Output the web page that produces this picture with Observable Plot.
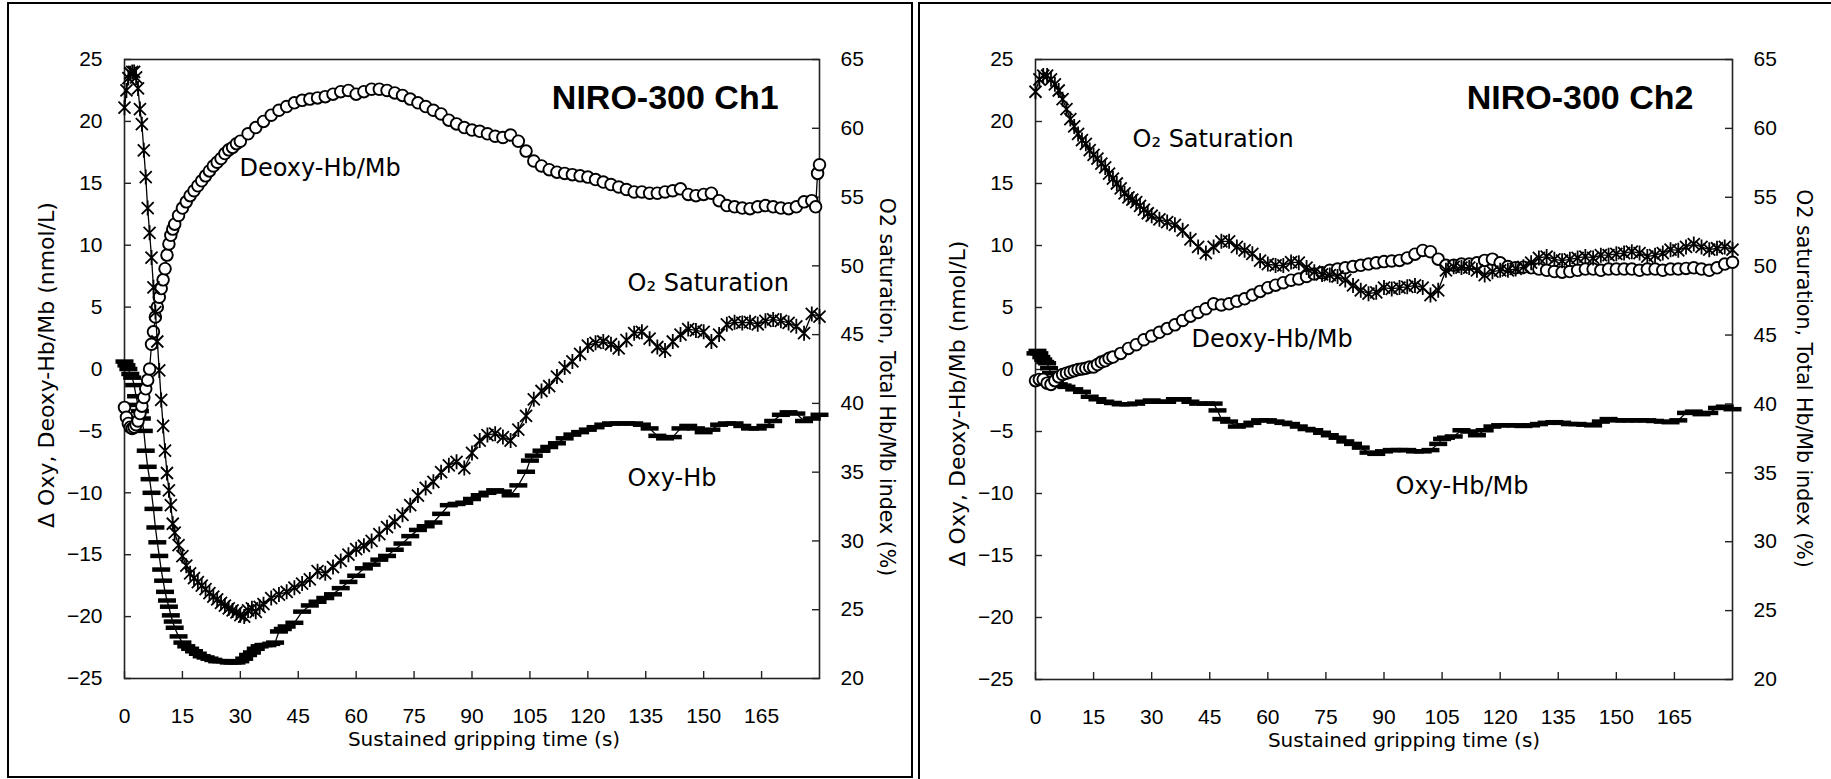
<!DOCTYPE html>
<html><head><meta charset="utf-8">
<script src="https://cdn.jsdelivr.net/npm/d3@7"></script>
<script src="https://cdn.jsdelivr.net/npm/@observablehq/plot@0.6"></script>
<style>
html,body{margin:0;padding:0;background:#fff;}
#wrap{position:relative;width:1831px;height:779px;overflow:hidden;background:#fff;}
.panel{position:absolute;top:0;}
.box{position:absolute;border:2px solid #000;box-sizing:border-box;pointer-events:none;}
</style></head><body>
<div id="wrap">
  <div id="p1" class="panel" style="left:0px"></div>
  <div id="p2" class="panel" style="left:916px"></div>
  <div class="box" style="left:7px;top:2px;width:906px;height:776px"></div>
  <div class="box" style="left:918px;top:2px;width:1000px;height:800px"></div>
</div>
<script>
// ---------- axis ticks / labels ----------
const xTicks = [0,15,30,45,60,75,90,105,120,135,150,165];
const yTicksLeft = [-25,-20,-15,-10,-5,0,5,10,15,20,25];
const yTicksRight = [20,25,30,35,40,45,50,55,60,65];
const xTitle = "Sustained gripping time (s)";
const yTitleLeft = "Δ Oxy, Deoxy-Hb/Mb (nmol/L)";
const yTitleRight = "O2 saturation, Total Hb/Mb index (%)";

// ---------- NIRO-300 Ch1 (time s, value) ----------
// Deoxy-Hb/Mb (nmol/L, left axis)
const ch1Deoxy = [[0,-3.1],[0.5,-3.9],[1,-4.4],[1.5,-4.7],[2,-4.8],[2.5,-4.7],[3,-4.5],[3.5,-4.2],[4,-3.6],[4.5,-3.0],[5,-2.3],[5.5,-1.6],[6,-0.9],[6.5,0.0],[7,2.0],[7.5,3.0],[8,4.2],[8.5,5.0],[9,5.8],[9.5,6.5],[10,7.2],[10.5,8.1],[11,9.2],[11.5,10.1],[12,10.8],[12.5,11.3],[13,11.7],[14,12.4],[15,13.0],[16,13.5],[17,14.0],[18,14.4],[19,14.8],[20,15.2],[21,15.6],[22,16.0],[23,16.4],[24,16.7],[25,17.0],[26,17.4],[27,17.7],[28,17.9],[29,18.2],[30,18.4],[32,19.0],[34,19.5],[36,20.0],[38,20.5],[40,20.9],[42,21.2],[44,21.5],[46,21.7],[48,21.8],[50,21.9],[52,22.0],[54,22.2],[56,22.4],[58,22.5],[60,22.2],[62,22.4],[64,22.6],[66,22.6],[68,22.5],[70,22.3],[72,22.1],[74,21.8],[76,21.5],[78,21.2],[80,20.9],[82,20.6],[84,20.1],[86,19.8],[88,19.5],[90,19.3],[92,19.2],[94,19.0],[96,18.8],[98,18.7],[100,18.9],[102,18.4],[104,17.6],[106,16.8],[108,16.4],[110,16.1],[112,15.9],[114,15.8],[116,15.7],[118,15.6],[120,15.5],[122,15.3],[124,15.1],[126,14.9],[128,14.7],[130,14.5],[132,14.3],[134,14.3],[136,14.2],[138,14.2],[140,14.3],[142,14.4],[144,14.55],[146,14.1],[148,14.0],[150,14.1],[152,14.2],[154,13.6],[156,13.2],[158,13.1],[160,13.0],[162,12.95],[164,13.1],[166,13.2],[168,13.1],[170,13.0],[172,12.95],[174,13.1],[176,13.5],[178,13.6],[179,13.1],[179.5,15.8],[180,16.5]];
// O2 saturation (%, right axis)
const ch1Sat = [[0,61.5],[0.5,62.75],[1,63.65],[1.5,64.0],[2,64.1],[2.5,64.1],[3,63.7],[3.5,62.9],[4,61.4],[4.5,60.3],[5,58.4],[5.5,56.45],[6,54.2],[6.5,52.4],[7,50.6],[7.5,48.44],[8,46.64],[8.5,44.5],[9,42.4],[9.5,40.25],[10,38.36],[10.5,36.56],[11,34.94],[11.5,33.68],[12,32.6],[12.5,31.25],[13,30.6],[14,29.7],[15,28.9],[16,28.2],[17,27.65],[18,27.3],[19,27.0],[20,26.75],[21,26.5],[22,26.2],[23,25.95],[24,25.75],[25,25.5],[26,25.3],[27,25.1],[28,24.95],[29,24.8],[30,24.6],[31,24.5],[32,24.95],[33,25.1],[34,24.85],[35,25.2],[36,25.4],[38,25.85],[40,26.1],[42,26.3],[44,26.6],[46,26.9],[48,27.2],[50,27.8],[52,27.65],[54,28.1],[56,28.55],[58,29.0],[60,29.4],[62,29.65],[64,30.0],[66,30.5],[68,31.0],[70,31.4],[72,31.9],[74,32.6],[76,33.3],[78,33.85],[80,34.3],[82,35.0],[84,35.5],[86,35.75],[88,35.3],[90,36.4],[92,37.3],[94,37.7],[96,37.8],[98,37.55],[100,37.3],[102,38.1],[104,39.1],[106,40.3],[108,40.9],[110,41.25],[112,41.95],[114,42.6],[116,43.05],[118,43.6],[120,44.2],[122,44.4],[124,44.5],[126,44.3],[128,44.0],[130,44.6],[132,45.1],[134,45.2],[136,44.7],[138,44.1],[140,43.85],[142,44.5],[144,45.0],[146,45.4],[148,45.3],[150,45.2],[152,44.5],[154,45.0],[156,45.75],[158,45.9],[160,45.85],[162,45.9],[164,45.75],[166,46.0],[168,46.1],[170,46.0],[172,45.85],[174,45.6],[176,45.1],[178,46.5],[180,46.3]];
// Oxy-Hb (nmol/L, left axis)
const ch1Oxy = [[0,0.6],[0.5,0.3],[1,0.0],[1.5,-0.4],[2,-0.7],[2.5,-1.3],[3,-2.2],[3.5,-2.9],[4,-3.4],[4.5,-4.0],[5,-5.0],[5.5,-6.6],[6,-7.9],[6.5,-8.9],[7,-10.0],[7.5,-11.3],[8,-12.8],[8.5,-14.0],[9,-15.1],[9.5,-16.2],[10,-17.1],[10.5,-18.0],[11,-18.7],[11.5,-19.2],[12,-19.9],[12.5,-20.4],[13,-20.9],[14,-21.6],[15,-22.1],[16,-22.4],[17,-22.6],[18,-22.8],[19,-23.0],[20,-23.2],[21,-23.3],[22,-23.4],[23,-23.5],[24,-23.6],[25,-23.6],[26,-23.6],[27,-23.7],[28,-23.7],[29,-23.7],[30,-23.6],[31,-23.4],[32,-23.1],[33,-22.9],[34,-22.6],[35,-22.4],[36,-22.3],[37,-22.3],[38,-22.2],[39,-22.1],[40,-21.2],[41,-21.0],[42,-20.8],[44,-20.5],[46,-19.6],[48,-19.1],[50,-18.8],[52,-18.5],[54,-18.2],[56,-17.7],[58,-17.2],[60,-16.7],[62,-16.1],[64,-15.8],[66,-15.4],[68,-15.1],[70,-14.6],[72,-14.1],[74,-13.5],[76,-13.0],[78,-12.7],[80,-12.4],[82,-11.7],[84,-11.0],[86,-10.9],[88,-10.8],[90,-10.5],[92,-10.2],[94,-10.0],[96,-9.8],[98,-9.9],[100,-10.2],[102,-9.4],[104,-8.3],[105,-7.4],[106,-7.0],[108,-6.6],[110,-6.3],[112,-6.0],[114,-5.6],[116,-5.3],[118,-5.1],[120,-4.9],[122,-4.7],[124,-4.5],[126,-4.4],[128,-4.4],[130,-4.4],[132,-4.4],[134,-4.5],[136,-4.8],[138,-5.4],[140,-5.6],[142,-5.5],[144,-4.8],[146,-4.6],[148,-4.8],[150,-5.1],[152,-4.9],[154,-4.5],[156,-4.4],[158,-4.4],[160,-4.6],[162,-4.8],[164,-4.8],[166,-4.6],[168,-4.2],[170,-3.7],[172,-3.5],[174,-3.6],[176,-4.2],[178,-4.0],[180,-3.7]];

// ---------- NIRO-300 Ch2 ----------
const ch2Sat = [[0,62.66],[1,63.56],[2,63.83],[3,63.83],[4,63.56],[5,63.2],[6,62.75],[7,62.12],[8,61.4],[9,60.68],[10,60.14],[11,59.6],[12,59.15],[13,58.88],[14,58.43],[15,58.07],[16,57.8],[17,57.44],[18,57.17],[19,56.72],[20,56.36],[21,56.0],[22,55.64],[23,55.28],[24,55.0],[25,54.83],[26,54.65],[27,54.38],[28,54.1],[29,53.84],[30,53.66],[32,53.4],[34,53.2],[36,53.0],[38,52.6],[40,51.95],[42,51.4],[44,50.95],[46,51.4],[48,51.8],[50,51.8],[52,51.4],[54,51.15],[56,50.9],[58,50.4],[60,50.15],[62,50.05],[64,50.05],[66,50.3],[68,50.25],[70,49.9],[72,49.6],[74,49.4],[76,49.35],[78,49.25],[80,49.0],[82,48.6],[84,48.25],[86,48.0],[88,48.1],[90,48.45],[92,48.35],[94,48.45],[96,48.5],[98,48.6],[100,48.45],[102,47.9],[104,48.25],[106,49.7],[108,49.95],[110,49.9],[112,49.9],[114,49.7],[116,49.35],[118,49.6],[120,49.7],[122,49.7],[124,49.8],[126,49.95],[128,50.25],[130,50.6],[132,50.7],[134,50.5],[136,50.4],[138,50.5],[140,50.6],[142,50.7],[144,50.6],[146,50.8],[148,50.8],[150,50.9],[152,50.95],[154,51.05],[156,50.95],[158,50.7],[160,50.8],[162,50.95],[164,51.2],[166,51.15],[168,51.4],[170,51.6],[172,51.4],[174,51.2],[176,51.3],[178,51.4],[180,51.2]];
const ch2Deoxy = [[0,-0.9],[1,-0.8],[2,-0.8],[3,-1.1],[4,-1.2],[5,-0.9],[6,-0.6],[7,-0.4],[8,-0.3],[9,-0.2],[10,-0.1],[11,0.0],[12,0.05],[13,0.1],[14,0.2],[15,0.2],[16,0.4],[17,0.6],[18,0.7],[19,0.9],[20,1.0],[22,1.3],[24,1.7],[26,2.0],[28,2.4],[30,2.7],[32,3.0],[34,3.3],[36,3.6],[38,3.95],[40,4.3],[42,4.6],[44,4.9],[46,5.3],[48,5.2],[50,5.3],[52,5.5],[54,5.7],[56,6.0],[58,6.3],[60,6.6],[62,6.8],[64,7.0],[66,7.2],[68,7.3],[70,7.5],[72,7.7],[74,7.8],[76,8.0],[78,8.1],[80,8.2],[82,8.3],[84,8.4],[86,8.5],[88,8.6],[90,8.7],[92,8.75],[94,8.8],[96,9.0],[98,9.3],[100,9.6],[102,9.5],[104,8.9],[106,8.4],[108,8.4],[110,8.5],[112,8.5],[114,8.6],[116,8.8],[118,8.9],[120,8.6],[122,8.3],[124,8.2],[126,8.25],[128,8.2],[130,8.1],[132,8.0],[134,7.9],[136,7.85],[138,7.9],[140,8.0],[142,8.1],[144,8.1],[146,8.0],[148,8.1],[150,8.1],[152,8.1],[154,8.1],[156,8.0],[158,8.1],[160,8.1],[162,8.0],[164,8.1],[166,8.1],[168,8.15],[170,8.2],[172,8.1],[174,8.0],[176,8.2],[178,8.5],[180,8.65]];
const ch2Oxy = [[0,1.3],[0.5,1.5],[1,1.3],[1.5,1.0],[2,0.8],[2.5,0.6],[3,0.5],[3.5,0.1],[4,-0.3],[4.5,-0.7],[5,-1.0],[6,-1.2],[7,-1.3],[8,-1.4],[10,-1.6],[12,-1.8],[14,-2.2],[16,-2.4],[18,-2.6],[20,-2.7],[22,-2.8],[24,-2.8],[26,-2.75],[28,-2.6],[30,-2.5],[32,-2.6],[34,-2.6],[36,-2.4],[38,-2.4],[40,-2.6],[42,-2.75],[44,-2.75],[46,-2.75],[47,-3.3],[48,-4.0],[50,-4.2],[52,-4.6],[54,-4.5],[56,-4.3],[58,-4.1],[60,-4.1],[62,-4.2],[64,-4.3],[66,-4.4],[68,-4.6],[70,-4.8],[72,-4.9],[74,-5.1],[76,-5.3],[78,-5.5],[80,-5.8],[82,-6.0],[84,-6.3],[86,-6.7],[88,-6.8],[90,-6.6],[92,-6.5],[94,-6.5],[96,-6.5],[98,-6.6],[100,-6.6],[102,-6.5],[104,-6.0],[105,-5.6],[106,-5.5],[108,-5.4],[110,-4.9],[112,-5.0],[114,-5.3],[116,-4.9],[118,-4.6],[120,-4.5],[122,-4.5],[124,-4.5],[126,-4.55],[128,-4.5],[130,-4.4],[132,-4.3],[134,-4.25],[136,-4.3],[138,-4.4],[140,-4.4],[142,-4.45],[144,-4.5],[146,-4.2],[148,-4.0],[150,-4.1],[152,-4.1],[154,-4.1],[156,-4.1],[158,-4.1],[160,-4.15],[162,-4.2],[164,-4.25],[166,-4.1],[168,-3.5],[170,-3.4],[172,-3.6],[174,-3.5],[176,-3.1],[178,-3.0],[180,-3.2]];

// ---------- annotations (anchor time s, left-axis value) ----------
const ch1Labels = [
  {t:29.8, v:16.25, text:"Deoxy-Hb/Mb"},
  {t:130.3, v:6.96, text:"O₂ Saturation"},
  {t:130.3, v:-8.87, text:"Oxy-Hb"}
];
const ch2Labels = [
  {t:25.05, v:18.6, text:"O₂ Saturation"},
  {t:40.3, v:2.4, text:"Deoxy-Hb/Mb"},
  {t:93.0, v:-9.46, text:"Oxy-Hb/Mb"}
];
const ch1Title = {t:169.4, v:21.92, text:"NIRO-300 Ch1"};
const ch2Title = {t:169.9, v:21.92, text:"NIRO-300 Ch2"};

// ---------- rendering ----------
const LEFT = [-25, 25], RIGHT = [20, 65];
const toLeft = p => LEFT[0] + (p - RIGHT[0]) * (LEFT[1]-LEFT[0]) / (RIGHT[1]-RIGHT[0]);
const toRight = v => RIGHT[0] + (v - LEFT[0]) * (RIGHT[1]-RIGHT[0]) / (LEFT[1]-LEFT[0]);

const starSym = {draw(ctx, size) {
  const r = Math.sqrt(size / Math.PI);
  ctx.moveTo(-r*0.8, -r*0.8); ctx.lineTo(r*0.8, r*0.8);
  ctx.moveTo(r*0.8, -r*0.8); ctx.lineTo(-r*0.8, r*0.8);
  ctx.moveTo(0, -r); ctx.lineTo(0, r);
}};
const dashSym = {draw(ctx, size) {
  const r = Math.sqrt(size / Math.PI);
  ctx.moveTo(-r, 0); ctx.lineTo(r, 0);
}};

const FONT = "'Liberation Sans', Arial, sans-serif";
const FONT2 = "'DejaVu Sans', sans-serif";

function panel(o) {
  const W = o.width, H = 779;
  const pw = W - o.ml - o.mr, ph = H - o.mt - o.mb;
  const rows = a => a.map(([t, v]) => ({t, v}));
  const oxy = rows(o.oxy), deo = rows(o.deoxy);
  const sat = o.sat.map(([t, p]) => ({t, v: toLeft(p)}));
  const rightPos = yTicksRight.map(toLeft);
  return Plot.plot({
    width: W, height: H,
    marginLeft: o.ml, marginRight: o.mr, marginTop: o.mt, marginBottom: o.mb,
    x: {domain: [0, 180]},
    y: {domain: LEFT},
    style: {fontFamily: FONT, fontSize: "21px", color: "#000", background: "#fff", overflow: "visible"},
    marks: [
      Plot.frame({stroke: "#222", strokeWidth: 1.6}),
      Plot.ruleX(xTicks, {x: d => d, insetTop: ph - 7, stroke: "#222", strokeWidth: 1.4}),
      Plot.ruleY(yTicksLeft, {y: d => d, insetRight: pw - 7, stroke: "#222", strokeWidth: 1.4}),
      Plot.ruleY(rightPos, {y: d => d, insetLeft: pw - 7, stroke: "#222", strokeWidth: 1.4}),
      Plot.axisX({ticks: xTicks, tickSize: 0, tickPadding: 30, label: null, tickFormat: d => String(d), fill: "#000"}),
      Plot.axisY({anchor: "left", ticks: yTicksLeft, tickSize: 0, tickPadding: 22, label: null, fill: "#000"}),
      Plot.axisY({anchor: "right", ticks: rightPos, tickSize: 0, tickPadding: 21, label: null, fill: "#000",
                  tickFormat: d => String(Math.round(toRight(d)))}),
      // axis titles
      Plot.text([xTitle], {text: d => d, frameAnchor: "bottom", textAnchor: "middle", dx: o.xtDx, dy: 67, fontSize: 20, fontFamily: FONT2, fill: "#000"}),
      Plot.text([yTitleLeft], {text: d => d, frameAnchor: "left", textAnchor: "middle", rotate: -90, dx: -78, dy: o.ylDy, fontSize: 22, fontFamily: FONT2, fill: "#000"}),
      Plot.text([yTitleRight], {text: d => d, frameAnchor: "right", textAnchor: "middle", rotate: 90, dx: o.yrDx, dy: o.yrDy, fontSize: 20.5, fontFamily: FONT2, fill: "#000"}),
      // Oxy-Hb: dash markers
      Plot.line(oxy, {x: "t", y: "v", stroke: "#000", strokeWidth: 1.3}),
      Plot.dot(oxy, {x: "t", y: "v", symbol: dashSym, r: 9, stroke: "#000", strokeWidth: 4.5, fill: "none"}),
      // Deoxy-Hb/Mb: open circles
      Plot.line(deo, {x: "t", y: "v", stroke: "#000", strokeWidth: 1.3}),
      Plot.dot(deo, {x: "t", y: "v", r: 5.8, stroke: "#000", strokeWidth: 1.9, fill: "#fff"}),
      // O2 saturation: star markers
      Plot.line(sat, {x: "t", y: "v", stroke: "#000", strokeWidth: 1.3}),
      Plot.dot(sat, {x: "t", y: "v", symbol: starSym, r: 7.5, stroke: "#000", strokeWidth: 1.8, fill: "none"}),
      // labels
      Plot.text(o.labels, {x: "t", y: "v", text: "text", textAnchor: "start", fontSize: 24, fontFamily: FONT2, fill: "#000"}),
      Plot.text([o.title], {x: "t", y: "v", text: "text", textAnchor: "end", fontSize: 34, fontWeight: "bold", fontFamily: FONT, fill: "#000"})
    ]
  });
}

document.getElementById("p1").appendChild(panel({
  width: 916, ml: 124, mr: 97, mt: 59, mb: 101,
  oxy: ch1Oxy, deoxy: ch1Deoxy, sat: ch1Sat, labels: ch1Labels, title: ch1Title,
  xtDx: 12, ylDy: -4, yrDx: 67, yrDy: 18
}));
document.getElementById("p2").appendChild(panel({
  width: 915, ml: 119, mr: 99, mt: 59, mb: 100,
  oxy: ch2Oxy, deoxy: ch2Deoxy, sat: ch2Sat, labels: ch2Labels, title: ch2Title,
  xtDx: 20, ylDy: 34, yrDx: 71, yrDy: 9
}));
</script>
</body></html>
